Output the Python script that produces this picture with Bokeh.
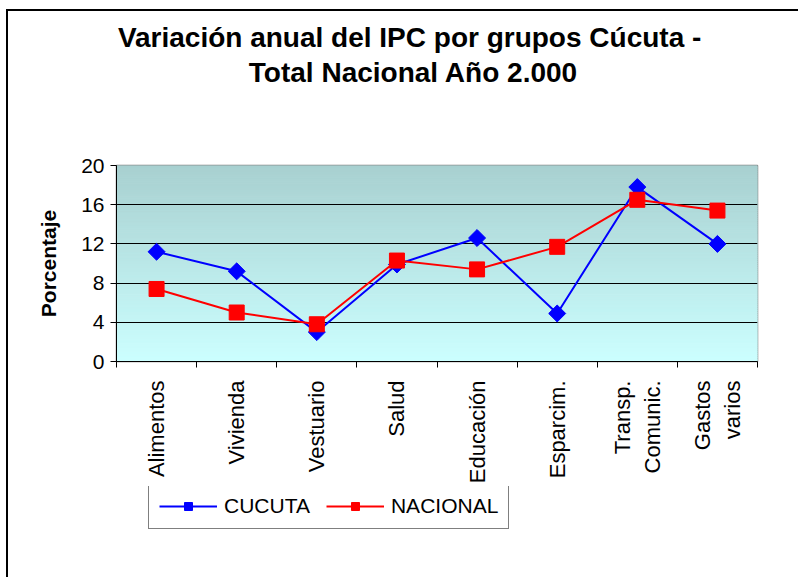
import numpy as np
from math import pi
from bokeh.plotting import figure
from bokeh.layouts import column
from bokeh.models import FixedTicker, Range1d, Label
from bokeh.embed import file_html
from bokeh.resources import INLINE

# ---- data ----
categories = ["Alimentos", "Vivienda", "Vestuario", "Salud", "Educación",
              "Esparcim.", "Transp.\nComunic.", "Gastos\nvarios"]
cucuta = [11.2, 9.2, 3.0, 9.9, 12.6, 4.9, 17.8, 12.0]
nacional = [7.4, 5.0, 3.8, 10.3, 9.4, 11.7, 16.5, 15.4]
y_ticks = [0, 4, 8, 12, 16, 20]
title_lines = ["Variación anual del IPC por grupos  Cúcuta -",
               "Total Nacional Año 2.000"]
series_names = ["CUCUTA", "NACIONAL"]
series_colors = ["#0000ff", "#ff0000"]

FONT = "Liberation Sans"
n = len(categories)
x_pos = [i + 0.5 for i in range(n)]
W = 790
BL, BR = 108, 41

# ---- header with the two title lines ----
p0 = figure(width=W, height=142, x_range=Range1d(0, 1), y_range=Range1d(0, 1),
            output_backend="svg", toolbar_location=None,
            min_border_left=BL, min_border_right=BR, min_border_top=0, min_border_bottom=0)
p0.axis.visible = False
p0.grid.visible = False
p0.outline_line_color = None
for t, yy in zip(title_lines, [116, 81]):
    p0.add_layout(Label(x=297, y=yy, x_units="screen", y_units="screen",
                        text=t, text_align="center", text_baseline="middle",
                        text_font=FONT, text_font_style="bold",
                        text_font_size="28px", text_color="black"))

# ---- main chart ----
p = figure(width=W, height=333,
           x_range=Range1d(0, n), y_range=Range1d(y_ticks[0], y_ticks[-1]),
           output_backend="svg", toolbar_location=None,
           min_border_left=BL, min_border_right=BR,
           min_border_top=12, min_border_bottom=122)

edges = np.linspace(y_ticks[0], y_ticks[-1], 101)
top_c = np.array([168, 208, 208])
bot_c = np.array([204, 255, 255])
mids = (edges[:-1] + edges[1:]) / 2
fr = (mids - edges[0]) / (edges[-1] - edges[0])
cols = ["#%02x%02x%02x" % tuple(int(round(v)) for v in (bot_c + (top_c - bot_c) * f)) for f in fr]
p.quad(left=0, right=n, bottom=edges[:-1], top=edges[1:],
       fill_color=cols, line_color=cols, line_width=1, level="image")

p.outline_line_color = "#808080"
p.outline_line_width = 1.5

p.xgrid.grid_line_color = None
p.ygrid.ticker = FixedTicker(ticks=y_ticks)
p.ygrid.grid_line_color = "black"
p.ygrid.grid_line_width = 1

p.yaxis.ticker = FixedTicker(ticks=y_ticks)
p.yaxis.major_tick_in = 0
p.yaxis.major_tick_out = 6
p.yaxis.minor_tick_line_color = None
p.yaxis.axis_line_color = "black"
p.yaxis.major_tick_line_color = "black"
p.yaxis.major_label_text_font = FONT
p.yaxis.major_label_text_font_size = "21px"
p.yaxis.major_label_text_color = "black"
p.yaxis.major_label_standoff = 6
p.yaxis.axis_label = "Porcentaje"
p.yaxis.axis_label_text_font = FONT
p.yaxis.axis_label_text_font_style = "bold"
p.yaxis.axis_label_text_font_size = "21px"
p.yaxis.axis_label_text_color = "black"
p.yaxis.axis_label_standoff = 18

p.xaxis.ticker = FixedTicker(ticks=x_pos, minor_ticks=list(range(n + 1)))
p.xaxis.major_label_overrides = {x: c for x, c in zip(x_pos, categories)}
p.xaxis.major_tick_line_color = None
p.xaxis.major_tick_in = 0
p.xaxis.major_tick_out = 0
p.xaxis.minor_tick_in = 0
p.xaxis.minor_tick_out = 6
p.xaxis.minor_tick_line_color = "black"
p.xaxis.axis_line_color = "black"
p.xaxis.major_label_orientation = pi / 2
p.xaxis.major_label_standoff = 13
p.xaxis.major_label_text_font = FONT
p.xaxis.major_label_text_font_size = "22px"
p.xaxis.major_label_text_color = "black"

p.line(x_pos, cucuta, color=series_colors[0], line_width=2)
p.scatter(x_pos, cucuta, marker="square", angle=pi / 4, size=12,
          fill_color=series_colors[0], line_color=series_colors[0])
p.line(x_pos, nacional, color=series_colors[1], line_width=2)
p.scatter(x_pos, nacional, marker="square", size=15,
          fill_color=series_colors[1], line_color=series_colors[1])

# ---- legend strip (series drawn outside its visible range, only the key shows) ----
p2 = figure(width=W, height=91, x_range=Range1d(0, 1), y_range=Range1d(-2, -1),
            output_backend="svg", toolbar_location=None,
            min_border_left=BL, min_border_right=BR, min_border_top=0, min_border_bottom=0)
p2.axis.visible = False
p2.grid.visible = False
p2.outline_line_color = None
p2.line(x_pos, cucuta, color=series_colors[0], line_width=2, legend_label=series_names[0])
p2.scatter(x_pos, cucuta, marker="square", angle=pi / 4, size=12,
           fill_color=series_colors[0], line_color=series_colors[0],
           legend_label=series_names[0])
p2.line(x_pos, nacional, color=series_colors[1], line_width=2, legend_label=series_names[1])
p2.scatter(x_pos, nacional, marker="square", size=15,
           fill_color=series_colors[1], line_color=series_colors[1],
           legend_label=series_names[1])
lg = p2.legend[0]
lg.location = (32, 48)
lg.orientation = "horizontal"
lg.border_line_color = "black"
lg.border_line_width = 1
lg.background_fill_color = "white"
lg.background_fill_alpha = 1
lg.label_text_font = FONT
lg.label_text_font_size = "21px"
lg.label_text_color = "black"
lg.glyph_width = 58
lg.glyph_height = 20
lg.spacing = 16
lg.padding = 10
lg.label_standoff = 7
lg.margin = 0

layout = column(p0, p, p2, spacing=0)
layout.styles = {"border-top": "2px solid black", "border-left": "2px solid black",
                 "margin-top": "9px", "margin-left": "6px"}

with open("out.html", "w", encoding="utf-8") as f:
    f.write(file_html(layout, INLINE))
